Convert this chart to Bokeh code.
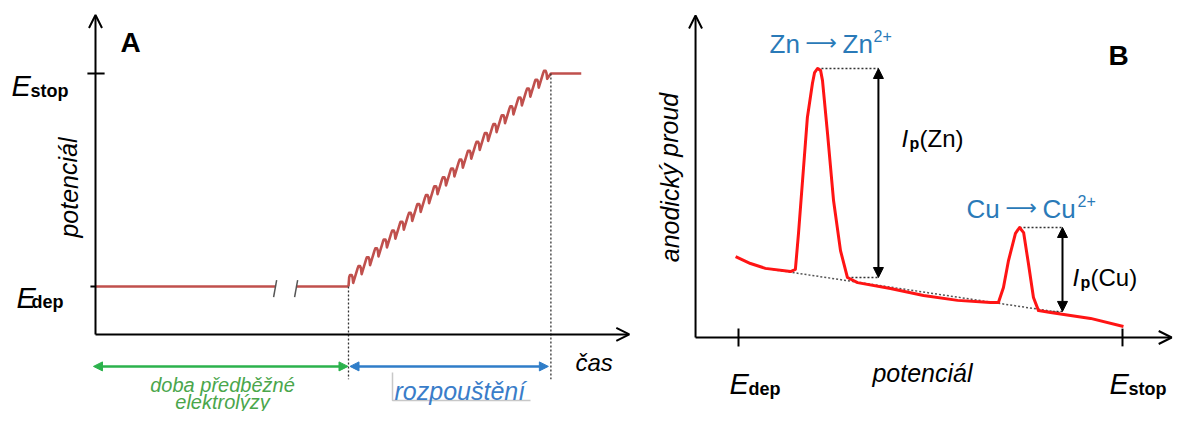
from bokeh.plotting import figure
from bokeh.models import Range1d, Arrow, NormalHead, OpenHead
from bokeh.layouts import row
from bokeh.core.properties import value
from bokeh.embed import file_html
from bokeh.resources import INLINE

# ---------------- data: panel A (potential vs time) ----------------
E_dep = 0.9            # deposition potential (a.u.)
E_stop = 4.9           # final potential (a.u.)
dep_t1 = [0.0, 7.1]    # deposition segment before axis break
dep_t2 = [7.93, 10.0]  # deposition segment after axis break
break_t = [7.1, 7.93]
t_strip_start = 10.0
t_strip_end = 18.0
t_hold_end = 19.2
n_steps = 24           # pulses during stripping
pulse_height = 1.3     # height of each pulse, relative to step height
pulse_drop = 0.9       # fall at end of each pulse, relative to step height
t_axis_end = 21.1
E_axis_end = 6.0
t_arrow_low = -0.72    # level of the interval arrows (potential units)

# ---------------- data: panel B (stripping voltammogram) ----------------
potential = [-1.412, -1.350, -1.288, -1.183, -1.163, -1.150, -1.129, -1.113,
             -1.092, -1.083, -1.071, -1.058, -1.050, -1.029, -1.004, -0.975,
             -0.946, -0.904, -0.767, -0.629, -0.487, -0.350, -0.317, -0.296,
             -0.275, -0.246, -0.229, -0.212, -0.192, -0.171, -0.150, -0.100,
             0.067, 0.204]
current = [3.01, 2.75, 2.57, 2.45, 2.53, 3.87, 6.32, 8.18,
           9.44, 9.85, 10.0, 9.93, 9.55, 7.58, 5.09, 3.23,
           2.23, 2.04, 1.82, 1.56, 1.38, 1.30, 1.30, 1.86,
           2.86, 3.87, 4.09, 3.90, 2.75, 1.49, 1.00, 0.93,
           0.71, 0.41]
baseline_E = [-1.29, -0.06]
baseline_I = [2.57, 0.93]
B_E_dep = -1.4
B_E_stop = 0.2
zn_peak = (-1.071, 10.0)
zn_base = (-0.946, 2.23)
cu_peak = (-0.229, 4.09)
cu_base = (-0.142, 0.97)
zn_arrow_E = -0.817
cu_arrow_E = -0.05
B_yaxis_E = -1.579
B_xaxis_end = 0.405
B_yaxis_top = 11.97

FONT = value("Liberation Sans")

# ---------------- figure A ----------------
WA, HA = 650, 411
xa = (-3.755, 21.937)
ya = (-1.447, 6.271)
pA = figure(width=WA, height=HA, x_range=Range1d(*xa), y_range=Range1d(*ya),
            output_backend="svg", toolbar_location=None, min_border=0,
            x_axis_location=None, y_axis_location=None)
pA.grid.visible = False
pA.outline_line_color = None


def A(px, py):
    return (xa[0] + px * (xa[1] - xa[0]) / WA,
            ya[1] - py * (ya[1] - ya[0]) / HA)


def txt(p, xy, s, size, color="black", style="normal", align="left",
        baseline="alphabetic", angle=0.0, font=FONT):
    p.text(x=[xy[0]], y=[xy[1]], text=[s], text_font=font,
           text_font_size=f"{size}px", text_font_style=style,
           text_color=color, text_align=align, text_baseline=baseline,
           angle=angle)


RED_A = "#c0504d"
GREEN = "#2bb24c"
GREEN_T = "#4aa64b"
BLUE = "#2f7dc8"
BLUE_T = "#3a7dc9"

# axes
pA.add_layout(Arrow(end=OpenHead(size=13, line_width=2), x_start=0, y_start=0,
                    x_end=t_axis_end, y_end=0, line_width=2))
pA.add_layout(Arrow(end=OpenHead(size=13, line_width=2), x_start=0, y_start=0,
                    x_end=0, y_end=E_axis_end, line_width=2))
pA.segment(x0=[-0.32, -0.2], y0=[E_stop, E_dep], x1=[0.36, 0], y1=[E_stop, E_dep],
           line_color="black", line_width=2)

# deposition line with break
pA.line(dep_t1, [E_dep, E_dep], line_color=RED_A, line_width=2.5)
pA.line(dep_t2, [E_dep, E_dep], line_color=RED_A, line_width=2.5)
pA.segment(x0=[b + 0.06 for b in break_t], y0=[E_dep + 0.12] * 2,
           x1=[b - 0.06 for b in break_t], y1=[E_dep - 0.2] * 2,
           line_color="#555555", line_width=1.5)

# pulsed ramp during stripping ("n"-shaped pulses on a rising staircase)
h = (E_stop - E_dep) / n_steps
P = (t_strip_end - t_strip_start) / n_steps
H = pulse_height * h
D = pulse_drop * h
sx, sy = [t_strip_start], [E_dep]
for k in range(n_steps):
    tk = t_strip_start + k * P
    bk = E_dep + k * h
    sx += [tk + 0.08 * P, tk + 0.18 * P, tk + 0.38 * P, tk + 0.48 * P, tk + 0.56 * P]
    sy += [bk + 0.8 * H, bk + H, bk + H, bk + H - 0.3 * D, bk + H - D]
sx += [t_strip_end, t_hold_end]
sy += [E_stop, E_stop]
pA.line(sx, sy, line_color=RED_A, line_width=2.6, line_join="round")

# dotted verticals
pA.segment(x0=[t_strip_start, t_strip_end], y0=[E_dep, E_stop],
           x1=[t_strip_start, t_strip_end], y1=[t_arrow_low - 0.12] * 2,
           line_color="#333333", line_width=1.3, line_dash="2 2")

# interval arrows
pA.add_layout(Arrow(start=NormalHead(size=9, fill_color=GREEN, line_color=GREEN),
                    end=NormalHead(size=9, fill_color=GREEN, line_color=GREEN),
                    x_start=-0.08, y_start=t_arrow_low + 0.12, x_end=t_strip_start - 0.02,
                    y_end=t_arrow_low + 0.12, line_color=GREEN, line_width=2.5))
pA.add_layout(Arrow(start=NormalHead(size=9, fill_color=BLUE, line_color=BLUE),
                    end=NormalHead(size=9, fill_color=BLUE, line_color=BLUE),
                    x_start=t_strip_start + 0.06, y_start=t_arrow_low + 0.12,
                    x_end=t_strip_end - 0.1, y_end=t_arrow_low + 0.12,
                    line_color=BLUE, line_width=2.5))

# faint text-box edge around "rozpouštění"
g0 = A(392, 372); g1 = A(392, 400); g2 = A(530, 400)
pA.line([g0[0], g1[0], g2[0]], [g0[1], g1[1], g2[1]], line_color="#c8c8c8", line_width=1.5)

# texts A
txt(pA, A(120, 42), "A", 28, style="bold")
txt(pA, A(11, 85), "E", 29, style="italic")
txt(pA, A(30, 90), "stop", 18, style="bold")
txt(pA, A(16, 297), "E", 29, style="italic")
txt(pA, A(31, 301), "dep", 18, style="bold")
txt(pA, A(68, 187), "potenciál", 25, style="italic", align="center",
    baseline="middle", angle=1.5708)
txt(pA, A(575, 362), "čas", 24, style="italic")
txt(pA, A(222, 384), "doba předběžné", 20, color=GREEN_T, style="italic", align="center")
txt(pA, A(222, 401), "elektrolýzy", 20, color=GREEN_T, style="italic", align="center")
txt(pA, A(394, 390), "rozpouštění", 25, color=BLUE_T, style="italic")

# ---------------- figure B ----------------
WB, HB = 524, 411
xb = (-1.7667, 0.4167)
yb = (-2.751, 12.528)
pB = figure(width=WB, height=HB, x_range=Range1d(*xb), y_range=Range1d(*yb),
            output_backend="svg", toolbar_location=None, min_border=0,
            x_axis_location=None, y_axis_location=None)
pB.grid.visible = False
pB.outline_line_color = None


def B(px, py):
    return (xb[0] + (px - 650) * (xb[1] - xb[0]) / WB,
            yb[1] - py * (yb[1] - yb[0]) / HB)


BLUE_B = "#2a7ab8"

pB.add_layout(Arrow(end=OpenHead(size=13, line_width=2), x_start=B_yaxis_E, y_start=0,
                    x_end=B_xaxis_end, y_end=0, line_width=2))
pB.add_layout(Arrow(end=OpenHead(size=13, line_width=2), x_start=B_yaxis_E, y_start=0,
                    x_end=B_yaxis_E, y_end=B_yaxis_top, line_width=2))
pB.segment(x0=[B_E_dep, B_E_stop], y0=[0.33, 0.33], x1=[B_E_dep, B_E_stop], y1=[-0.33, -0.33],
           line_color="black", line_width=2)

# dotted baseline and peak guides
pB.line(baseline_E, baseline_I, line_color="#555555", line_width=1.5, line_dash="2 2")
pB.segment(x0=[zn_peak[0], zn_base[0], cu_peak[0], cu_base[0]],
           y0=[zn_peak[1], zn_base[1], cu_peak[1], cu_base[1]],
           x1=[zn_arrow_E, zn_arrow_E, cu_arrow_E, cu_arrow_E],
           y1=[zn_peak[1], zn_base[1], cu_peak[1], cu_base[1]],
           line_color="#333333", line_width=1.4, line_dash="2 2")

pB.line(potential, current, line_color="#ff1414", line_width=3, line_join="round")

for xE, top, bot in [(zn_arrow_E, zn_peak[1], zn_base[1]), (cu_arrow_E, cu_peak[1], cu_base[1])]:
    pB.add_layout(Arrow(start=NormalHead(size=10, fill_color="black"),
                        end=NormalHead(size=10, fill_color="black"),
                        x_start=xE, y_start=bot, x_end=xE, y_end=top,
                        line_color="black", line_width=2))

# texts B
ARROWF = value("DejaVu Sans")
txt(pB, B(1108, 55), "B", 28, style="bold")
txt(pB, B(769, 43), "Zn", 26, color=BLUE_B)
txt(pB, B(805, 42), "⟶", 22, color=BLUE_B, font=ARROWF)
txt(pB, B(842, 43), "Zn", 26, color=BLUE_B)
txt(pB, B(873, 35), "2+", 16, color=BLUE_B)
txt(pB, B(966, 208), "Cu", 26, color=BLUE_B)
txt(pB, B(1005, 207), "⟶", 22, color=BLUE_B, font=ARROWF)
txt(pB, B(1042, 208), "Cu", 26, color=BLUE_B)
txt(pB, B(1077, 200), "2+", 16, color=BLUE_B)
txt(pB, B(901, 138), "I", 24, style="italic")
txt(pB, B(909, 143), "p", 16, style="bold")
txt(pB, B(919, 138), "(Zn)", 24)
txt(pB, B(1072, 277), "I", 24, style="italic")
txt(pB, B(1080, 282), "p", 16, style="bold")
txt(pB, B(1090, 277), "(Cu)", 24)
txt(pB, B(669, 177), "anodický proud", 25, style="italic", align="center",
    baseline="middle", angle=1.5708)
txt(pB, B(922, 372), "potenciál", 25, style="italic", align="center")
txt(pB, B(729, 383), "E", 29, style="italic")
txt(pB, B(748, 388), "dep", 18, style="bold")
txt(pB, B(1109, 383), "E", 29, style="italic")
txt(pB, B(1128, 388), "stop", 18, style="bold")

layout = row(pA, pB)
open("out.html", "w").write(file_html(layout, INLINE))
